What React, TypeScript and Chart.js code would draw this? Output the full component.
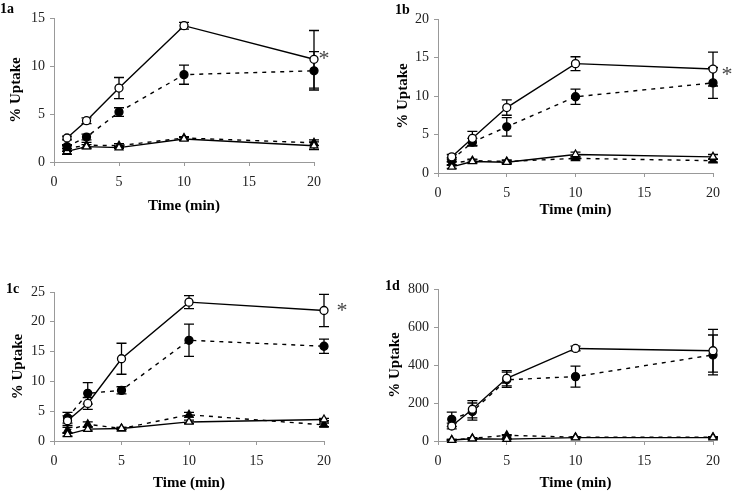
import React, { useEffect, useRef } from "react";
import { Chart, registerables } from "chart.js";
Chart.register(...registerables);

// Shared x values (minutes)
const times = [1, 2.5, 5, 10, 20];
const xTicks = [0, 5, 10, 15, 20];

// Panel 1a
const a_openCircle = [2.5, 4.3, 7.7, 14.2, 10.7];
const a_openCircleErr = [0.2, 0.3, 1.1, 0.35, 3.0];
const a_filledCircle = [1.6, 2.6, 5.2, 9.1, 9.5];
const a_filledCircleErr = [0.2, 0.3, 0.45, 1.0, 2.0];
const a_openTri = [1.1, 1.6, 1.5, 2.4, 1.7];
const a_openTriErr = [0.3, 0.2, 0.1, 0.15, 0.4];
const a_filledTri = [1.4, 1.75, 1.7, 2.5, 2.0];
const a_filledTriErr = [0.3, 0.3, 0.2, 0.15, 0.3];

// Panel 1b
const b_openCircle = [2.1, 4.5, 8.5, 14.2, 13.5];
const b_openCircleErr = [0.3, 0.9, 1.0, 0.9, 2.2];
const b_filledCircle = [1.7, 4.0, 6.0, 9.9, 11.7];
const b_filledCircleErr = [0.3, 0.5, 1.2, 1.0, 2.0];
const b_openTri = [0.8, 1.5, 1.4, 2.4, 2.1];
const b_openTriErr = [0.2, 0.2, 0.2, 0.3, 0.3];
const b_filledTri = [1.3, 1.6, 1.5, 1.9, 1.6];
const b_filledTriErr = [0.2, 0.2, 0.2, 0.2, 0.2];

// Panel 1c
const c_openCircle = [3.4, 6.3, 13.8, 23.3, 21.9];
const c_openCircleErr = [0.8, 1.0, 2.6, 1.1, 2.7];
const c_filledCircle = [3.9, 8.0, 8.5, 16.9, 15.9];
const c_filledCircleErr = [0.9, 1.8, 0.6, 2.7, 1.2];
const c_openTri = [1.1, 2.0, 2.1, 3.2, 3.6];
const c_openTriErr = [0.3, 0.3, 0.2, 0.3, 0.2];
const c_filledTri = [1.8, 2.8, 2.1, 4.4, 2.7];
const c_filledTriErr = [0.5, 0.4, 0.2, 0.4, 0.3];

// Panel 1d
const d_openCircle = [79, 167, 330, 487, 475];
const d_openCircleErr = [15, 45, 40, 12, 113];
const d_filledCircle = [114, 155, 322, 339, 453];
const d_filledCircleErr = [38, 45, 40, 55, 105];
const d_openTri = [5, 12, 10, 18, 18];
const d_openTriErr = [3, 3, 3, 3, 3];
const d_filledTri = [5, 14, 30, 20, 20];
const d_filledTriErr = [3, 3, 3, 3, 3];

const yTitle = "% Uptake";
const xTitle = "Time (min)";
const SERIF = "'Liberation Serif', 'Times New Roman', serif";

type PanelCfg = {
  label: string;
  left: number; top: number; w: number; h: number;
  padLeft: number; axisW: number; padTop: number; padRight: number;
  xH: number; titlePb: number;
  yMax: number; yStep: number;
  labelX: number; labelY: number;
  star: null | { dx: number; dy: number };
  series: number[][];
};

const panels: PanelCfg[] = [
  {
    label: "1a", left: 0, top: 0, w: 367, h: 245,
    padLeft: 7, axisW: 47, padTop: 18, padRight: 53, xH: 83, titlePb: 30,
    yMax: 15, yStep: 5, labelX: 0, labelY: 1,
    star: { dx: 10, dy: -4 },
    series: [a_openCircle, a_openCircleErr, a_filledCircle, a_filledCircleErr, a_openTri, a_openTriErr, a_filledTri, a_filledTriErr],
  },
  {
    label: "1b", left: 367, top: 0, w: 367, h: 245,
    padLeft: 27, axisW: 44, padTop: 19, padRight: 21, xH: 72, titlePb: 26,
    yMax: 20, yStep: 5, labelX: 395, labelY: 2,
    star: { dx: 14, dy: 2 },
    series: [b_openCircle, b_openCircleErr, b_filledCircle, b_filledCircleErr, b_openTri, b_openTriErr, b_filledTri, b_filledTriErr],
  },
  {
    label: "1c", left: 0, top: 245, w: 367, h: 248,
    padLeft: 9, axisW: 45, padTop: 47, padRight: 43, xH: 52, titlePb: 1,
    yMax: 25, yStep: 5, labelX: 6, labelY: 281,
    star: { dx: 18, dy: -3 },
    series: [c_openCircle, c_openCircleErr, c_filledCircle, c_filledCircleErr, c_openTri, c_openTriErr, c_filledTri, c_filledTriErr],
  },
  {
    label: "1d", left: 367, top: 245, w: 367, h: 248,
    padLeft: 19, axisW: 52, padTop: 44, padRight: 21, xH: 52, titlePb: 1,
    yMax: 800, yStep: 200, labelX: 385, labelY: 278,
    star: null,
    series: [d_openCircle, d_openCircleErr, d_filledCircle, d_filledCircleErr, d_openTri, d_openTriErr, d_filledTri, d_filledTriErr],
  },
];

const errorBarPlugin = {
  id: "errorBars",
  beforeDatasetsDraw(chart: any) {
    const ctx = chart.ctx;
    const ys = chart.scales.y;
    chart.data.datasets.forEach((ds: any, i: number) => {
      const errs = ds.errors as number[] | undefined;
      if (!errs) return;
      const meta = chart.getDatasetMeta(i);
      ctx.save();
      ctx.strokeStyle = "#000";
      ctx.lineWidth = 1.3;
      meta.data.forEach((pt: any, j: number) => {
        const v = ds.data[j].y;
        const e = errs[j];
        const yt = ys.getPixelForValue(v + e);
        const yb = ys.getPixelForValue(v - e);
        const x = pt.x;
        ctx.beginPath();
        ctx.moveTo(x, yt); ctx.lineTo(x, yb);
        ctx.moveTo(x - 5, yt); ctx.lineTo(x + 5, yt);
        ctx.moveTo(x - 5, yb); ctx.lineTo(x + 5, yb);
        ctx.stroke();
      });
      ctx.restore();
    });
  },
};

const starPlugin = {
  id: "starMark",
  afterDatasetsDraw(chart: any, _args: any, opts: any) {
    if (!opts || !opts.show) return;
    const meta = chart.getDatasetMeta(0);
    const last = meta.data[meta.data.length - 1];
    const ctx = chart.ctx;
    ctx.save();
    ctx.fillStyle = "#444";
    ctx.font = `22px ${SERIF}`;
    ctx.textAlign = "center";
    ctx.textBaseline = "middle";
    ctx.fillText("*", last.x + opts.dx, last.y + opts.dy + 4);
    ctx.restore();
  },
};

function mkDs(vals: number[], errs: number[], style: string, filled: boolean, dashed: boolean) {
  return {
    data: times.map((t, i) => ({ x: t, y: vals[i] })),
    errors: errs,
    borderColor: "#000",
    borderWidth: 1.4,
    borderDash: dashed ? [4, 5] : [],
    pointStyle: style,
    pointRadius: style === "triangle" ? 4.5 : 4,
    pointBackgroundColor: filled ? "#000" : "#fff",
    pointBorderColor: "#000",
    pointBorderWidth: 1.3,
    fill: false,
    tension: 0,
    clip: false,
  };
}

function PanelChart({ cfg }: { cfg: PanelCfg }) {
  const ref = useRef<HTMLCanvasElement | null>(null);
  useEffect(() => {
    if (!ref.current) return;
    const s = cfg.series;
    const yTicks: number[] = [];
    for (let v = 0; v <= cfg.yMax; v += cfg.yStep) yTicks.push(v);
    const chart = new Chart(ref.current, {
      type: "line",
      data: {
        // dataset 0 is drawn on top
        datasets: [
          mkDs(s[0], s[1], "circle", false, false),
          mkDs(s[2], s[3], "circle", true, true),
          mkDs(s[4], s[5], "triangle", false, false),
          mkDs(s[6], s[7], "triangle", true, true),
        ] as any,
      },
      options: {
        animation: false,
        responsive: false,
        devicePixelRatio: 1,
        layout: { padding: { left: cfg.padLeft, top: cfg.padTop, right: cfg.padRight, bottom: 0 } },
        plugins: {
          legend: { display: false },
          tooltip: { enabled: false },
          starMark: cfg.star ? { show: true, dx: cfg.star.dx, dy: cfg.star.dy } : { show: false },
        } as any,
        scales: {
          x: {
            type: "linear",
            min: 0,
            max: 20,
            afterBuildTicks: (sc: any) => { sc.ticks = xTicks.map((v) => ({ value: v })); },
            afterFit: (sc: any) => { sc.height = cfg.xH; },
            grid: { drawOnChartArea: false, drawTicks: true, tickLength: 4, color: "#999" },
            border: { color: "#999", width: 1 },
            ticks: { padding: 8, color: "#222", font: { family: SERIF, size: 14 }, maxRotation: 0 },
            title: {
              display: true, text: xTitle, color: "#000",
              font: { family: SERIF, size: 15, weight: "bold" },
              padding: { top: 0, bottom: cfg.titlePb },
            },
          },
          y: {
            type: "linear",
            min: 0,
            max: cfg.yMax,
            afterBuildTicks: (sc: any) => { sc.ticks = yTicks.map((v) => ({ value: v })); },
            afterFit: (sc: any) => { sc.width = cfg.axisW; },
            grid: { drawOnChartArea: false, drawTicks: true, tickLength: 4, color: "#999" },
            border: { color: "#999", width: 1 },
            ticks: { padding: 5, color: "#222", font: { family: SERIF, size: 14 } },
            title: {
              display: true, text: yTitle, color: "#000",
              font: { family: SERIF, size: 15, weight: "bold" },
              padding: { top: 0, bottom: 0 },
            },
          },
        },
      } as any,
      plugins: [errorBarPlugin, starPlugin] as any,
    });
    return () => chart.destroy();
  }, [cfg]);
  return (
    <canvas
      ref={ref}
      width={cfg.w}
      height={cfg.h}
      style={{ position: "absolute", left: cfg.left, top: cfg.top, width: cfg.w, height: cfg.h }}
    />
  );
}

export default function App() {
  return (
    <div style={{ position: "absolute", left: 0, top: 0, width: 734, height: 493, background: "#fff", overflow: "hidden" }}>
      {panels.map((p) => (
        <PanelChart key={p.label} cfg={p} />
      ))}
      {panels.map((p) => (
        <div
          key={p.label + "-lbl"}
          style={{
            position: "absolute", left: p.labelX, top: p.labelY,
            fontFamily: SERIF, fontWeight: "bold", fontSize: 14, lineHeight: "16px", color: "#000",
          }}
        >
          {p.label}
        </div>
      ))}
    </div>
  );
}
